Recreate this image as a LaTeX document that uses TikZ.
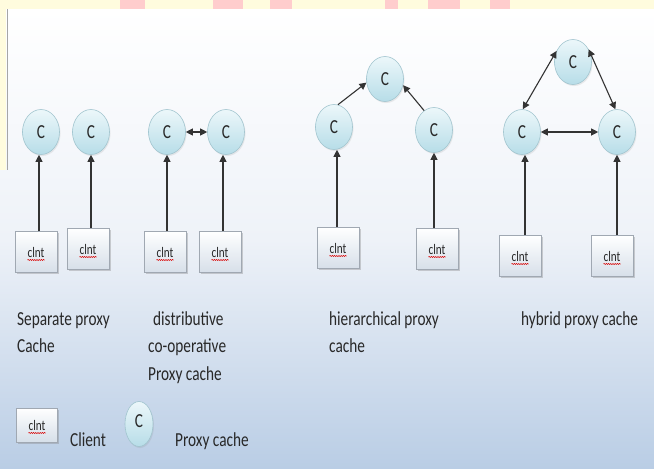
\documentclass[tikz,border=0pt]{standalone}
\usepackage{fontspec}
\setmainfont{Carlito}
\usetikzlibrary{arrows.meta,shapes.geometric,shadows,decorations.pathmorphing}
\definecolor{bgbot}{RGB}{185,205,229}
\definecolor{strip}{RGB}{255,252,222}
\definecolor{pinkb}{RGB}{255,205,205}
\definecolor{ctop}{RGB}{236,247,250}
\definecolor{cbot}{RGB}{183,221,232}
\definecolor{cedge}{RGB}{160,196,206}
\definecolor{boxedge}{RGB}{160,168,178}
\definecolor{boxbot}{RGB}{214,223,233}
\definecolor{txt}{RGB}{40,40,40}
\newcommand\tx[1]{\scalebox{1}[1.3]{#1}}
\begin{document}
\begin{tikzpicture}[x=1pt,y=1pt,
  every node/.style={font=\fontsize{15.3}{18}\selectfont, text=txt},
  cache/.style={ellipse, minimum width=37pt, minimum height=45pt, inner sep=0pt,
    top color=ctop, bottom color=cbot, draw=cedge, line width=0.6pt,
    drop shadow={shadow xshift=1pt, shadow yshift=-1.5pt, opacity=0.15}},
  client/.style={rectangle, minimum width=42pt, minimum height=41pt, inner sep=0pt,
    top color=white, bottom color=boxbot, draw=boxedge, line width=0.6pt,
    font=\fontsize{11.2}{13}\selectfont,
    drop shadow={shadow xshift=1.5pt, shadow yshift=-1.5pt, opacity=0.35},
    path picture={\draw[red!85!black, line width=0.5pt, decorate,
      decoration={snake, segment length=2.2pt, amplitude=0.6pt}]
      ([xshift=-8.5pt,yshift=-8pt]path picture bounding box.center) -- ++(17pt,0);}},
  lbl/.style={anchor=base west, inner sep=0pt},
  link/.style={draw=black!80, line width=1.1pt, -{Triangle[length=7pt,width=7pt]}},
  dlink/.style={draw=black!80, line width=1.1pt, {Triangle[length=7pt,width=7pt]}-{Triangle[length=7pt,width=7pt]}}
]
% background
\useasboundingbox (0,0) rectangle (654,-469);
\shade[top color=white, bottom color=bgbot, middle color={rgb,255:red,238;green,242;blue,248}] (0,-9) rectangle (654,-469);
\fill[strip] (0,0) rectangle (654,-9);
\foreach \a/\b in {120/145, 213/243, 270/292, 385/398, 428/460, 490/510}
  \fill[pinkb] (\a,0) rectangle (\b,-9);
\fill[strip] (0,-9) rectangle (6,-170);
\draw[gray!70, line width=1pt] (7,-9) -- (7,-170);

% group 1: separate
\node[cache] (c1) at (41,-132) {\tx{C}};
\node[cache] (c2) at (91,-132) {\tx{C}};
\node[client] (b1) at (36,-252) {\tx{clnt}};
\node[client] (b2) at (88,-249) {\tx{clnt}};
\draw[link] (b1.north -| 39,0) -- (c1.south -| 39,0);
\draw[link] (b2.north -| c2) -- (c2.south);

% group 2: distributive
\node[cache] (c3) at (167,-132) {\tx{C}};
\node[cache] (c4) at (226,-132) {\tx{C}};
\node[client] (b3) at (165,-252) {\tx{clnt}};
\node[client] (b4) at (220,-252) {\tx{clnt}};
\draw[link] (b3.north -| c3) -- (c3.south);
\draw[link] (b4.north -| 223,0) -- (c4.south -| 223,0);
\draw[dlink] (c3.east) -- (c4.west);

% group 3: hierarchical
\node[cache] (t3) at (385,-79) {\tx{C}};
\node[cache] (l3) at (334,-127) {\tx{C}};
\node[cache] (r3) at (434,-130) {\tx{C}};
\node[client] (b5) at (338,-248) {\tx{clnt}};
\node[client] (b6) at (437,-249) {\tx{clnt}};
\draw[link] (b5.north -| 337,0) -- (l3.south -| 337,0);
\draw[link] (b6.north -| r3) -- (r3.south);
\draw[link] (l3.80) -- (t3.191);
\draw[link] (r3.117) -- (t3.341);

% group 4: hybrid
\node[cache] (t4) at (573,-62) {\tx{C}};
\node[cache] (l4) at (522,-132) {\tx{C}};
\node[cache] (r4) at (617,-132) {\tx{C}};
\node[client] (b7) at (520,-256) {\tx{clnt}};
\node[client] (b8) at (612,-256) {\tx{clnt}};
\draw[link] (b7.north -| 525,0) -- (l4.south -| 525,0);
\draw[link] (b8.north -| r4) -- (r4.south);
\draw[dlink] (t4.146) -- (l4.88);
\draw[dlink] (t4.39) -- (r4.94);
\draw[dlink] (l4.east) -- (r4.west);

% labels
\node[lbl] (s1) at (17,-325) {\tx{Separate proxy}};
\node[lbl] (s2) at (17,-352) {\tx{Cache}};
\node[lbl] (d1) at (153,-325) {\tx{distributive}};
\node[lbl] (d2) at (148,-352) {\tx{co-operative}};
\node[lbl] (d3) at (148,-380) {\tx{Proxy cache}};
\node[lbl] (h1) at (329,-325) {\tx{hierarchical proxy}};
\node[lbl] (h2) at (329,-352) {\tx{cache}};
\node[lbl] (y1) at (521,-325) {\tx{hybrid proxy cache}};

% legend
\node[client, minimum width=41pt, minimum height=34pt] (lb) at (37,-425) {\tx{clnt}};
\node[lbl] (lbt) at (70,-446) {\tx{Client}};
\node[cache, minimum width=28pt, minimum height=45pt] (lc) at (139,-424) {\raisebox{5pt}{\tx{C}}};
\node[lbl] (lct) at (175,-446) {\tx{Proxy cache}};
\end{tikzpicture}
\end{document}
